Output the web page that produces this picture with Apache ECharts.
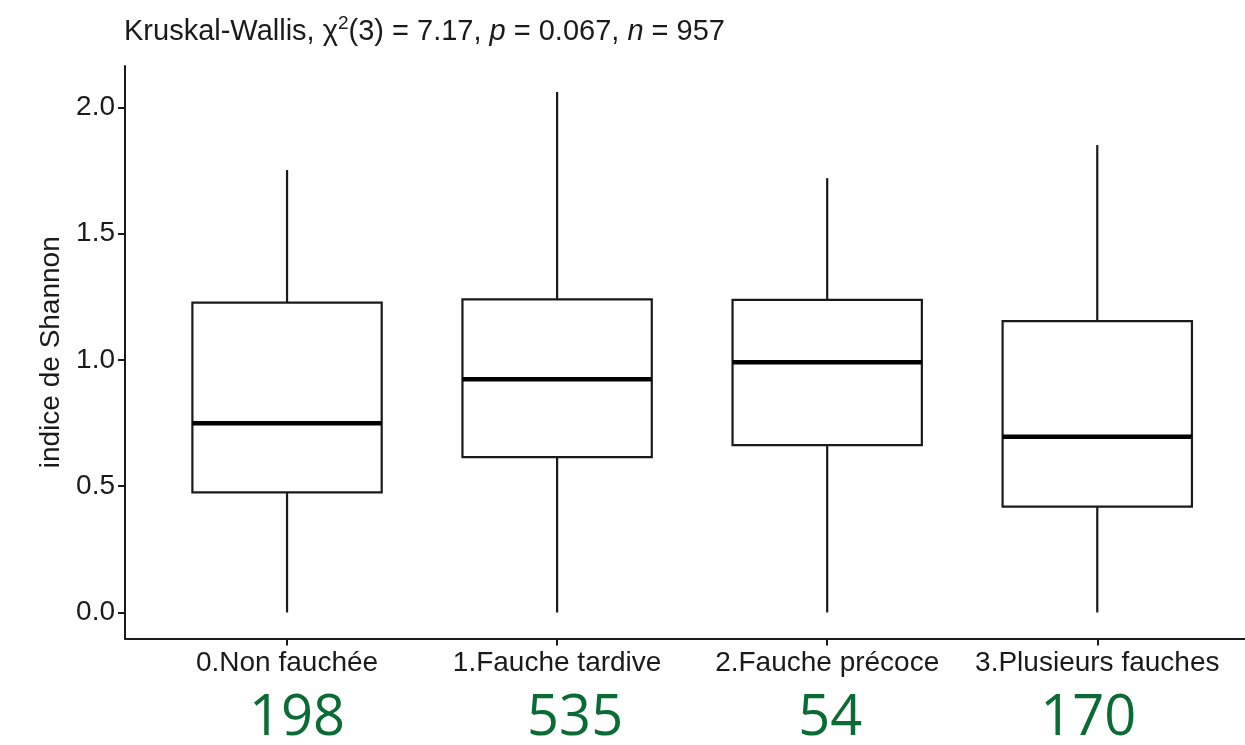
<!DOCTYPE html>
<html>
<head>
<meta charset="utf-8">
<script src="https://cdn.jsdelivr.net/npm/echarts@6/dist/echarts.min.js"></script>
<style>
  html, body { margin: 0; padding: 0; background: #fff; }
  #chart { width: 1245px; height: 745px; }
</style>
</head>
<body>
<div id="chart"></div>
<script>
// Shannon diversity by mowing regime: box summaries per group
const categories = ['0.Non fauchée', '1.Fauche tardive', '2.Fauche précoce', '3.Plusieurs fauches'];
const counts = [198, 535, 54, 170];
const whiskerLow = [0, 0, 0, 0];
const q1 = [0.476, 0.615, 0.663, 0.419];
const median = [0.749, 0.924, 0.991, 0.696];
const q3 = [1.227, 1.240, 1.238, 1.154];
const whiskerHigh = [1.752, 2.061, 1.720, 1.851];
const yTicks = [0, 0.5, 1.0, 1.5, 2.0];

const ink = '#1a1a1a';
const green = '#0a6b35';
const fontFamily = '"Liberation Sans", Arial, Helvetica, sans-serif';
const countFont = '"Open Sans", "Noto Sans", sans-serif';
// horizontal nudge (px) of each group size under its label
const countNudge = [10, 18, 3, -9];

// 5% padding around the data range on the value axis
const dataMin = Math.min(...whiskerLow);
const dataMax = Math.max(...whiskerHigh);
const span = dataMax - dataMin;
const yMin = dataMin - 0.05 * span;
const yMax = dataMax + 0.05 * span;

const boxData = categories.map((c, i) => [i, whiskerLow[i], q1[i], median[i], q3[i], whiskerHigh[i]]);

const countRich = { a: { fontFamily: fontFamily, fontSize: 28, color: ink, lineHeight: 34 } };
countNudge.forEach((d, i) => {
  countRich['b' + i] = {
    fontFamily: countFont, fontSize: 56, color: green, lineHeight: 78,
    padding: d >= 0 ? [0, 0, 0, 2 * d] : [0, -2 * d, 0, 0]
  };
});

const chart = echarts.init(document.getElementById('chart'), null, { renderer: 'canvas' });

function renderBox(params, api) {
  const x = api.value(0);
  const halfW = api.size([0.701, 0])[0] / 2;
  const pLow = api.coord([x, api.value(1)]);
  const pQ1 = api.coord([x, api.value(2)]);
  const pMed = api.coord([x, api.value(3)]);
  const pQ3 = api.coord([x, api.value(4)]);
  const pHigh = api.coord([x, api.value(5)]);
  const cx = pQ1[0];
  const thin = { stroke: ink, lineWidth: 2.2, fill: null };
  return {
    type: 'group',
    children: [
      { type: 'line', shape: { x1: cx, y1: pHigh[1], x2: cx, y2: pQ3[1] }, style: thin },
      { type: 'line', shape: { x1: cx, y1: pQ1[1], x2: cx, y2: pLow[1] }, style: thin },
      { type: 'rect', shape: { x: cx - halfW, y: pQ3[1], width: 2 * halfW, height: pQ1[1] - pQ3[1] },
        style: { stroke: ink, lineWidth: 2.2, fill: '#ffffff' } },
      { type: 'line', shape: { x1: cx - halfW, y1: pMed[1], x2: cx + halfW, y2: pMed[1] },
        style: { stroke: '#000', lineWidth: 4.5 } }
    ]
  };
}

chart.setOption({
  animation: false,
  backgroundColor: '#ffffff',
  title: {
    text: 'Kruskal-Wallis, {chi|χ}{sup|2}(3) = 7.17, {it|p} = 0.067, {it|n} = 957',
    left: 124,
    top: 14,
    padding: 0,
    textStyle: {
      fontFamily: fontFamily,
      fontSize: 29,
      fontWeight: 'normal',
      color: ink,
      lineHeight: 36,
      rich: {
        chi: { fontFamily: fontFamily, fontSize: 29, color: ink, lineHeight: 36 },
        sup: { fontFamily: fontFamily, fontSize: 19, color: ink, verticalAlign: 'top', lineHeight: 20 },
        it: { fontFamily: fontFamily, fontSize: 29, fontStyle: 'italic', color: ink, lineHeight: 36 }
      }
    }
  },
  grid: { left: 125, right: 0, top: 66, bottom: 106.5, containLabel: false, outerBoundsMode: 'none' },
  xAxis: {
    type: 'value',
    min: -0.6,
    max: 3.547,
    splitLine: { show: false },
    axisLine: { show: true, onZero: false, lineStyle: { color: ink, width: 2 } },
    axisTick: { show: true, length: 7, customValues: [0, 1, 2, 3], lineStyle: { color: ink, width: 2 } },
    axisLabel: {
      show: true,
      margin: 8,
      customValues: [0, 1, 2, 3],
      formatter: function (v) {
        const i = Math.round(v);
        return '{a|' + categories[i] + '}\n{b' + i + '|' + counts[i] + '}';
      },
      rich: countRich
    }
  },
  yAxis: {
    type: 'value',
    min: yMin,
    max: yMax,
    name: 'indice de Shannon',
    nameLocation: 'middle',
    nameGap: 60,
    nameTextStyle: { fontFamily: fontFamily, fontSize: 28, color: ink },
    splitLine: { show: false },
    axisLine: { show: true, onZero: false, lineStyle: { color: ink, width: 2 } },
    axisTick: { show: true, length: 7, customValues: yTicks, lineStyle: { color: ink, width: 2 } },
    axisLabel: {
      show: true,
      margin: 10,
      customValues: yTicks,
      formatter: v => v.toFixed(1),
      fontFamily: fontFamily,
      fontSize: 28,
      color: ink
    }
  },
  series: [{
    type: 'custom',
    name: 'Shannon',
    renderItem: renderBox,
    encode: { x: 0, y: [1, 2, 3, 4, 5] },
    data: boxData,
    clip: false
  }]
});
</script>
</body>
</html>
